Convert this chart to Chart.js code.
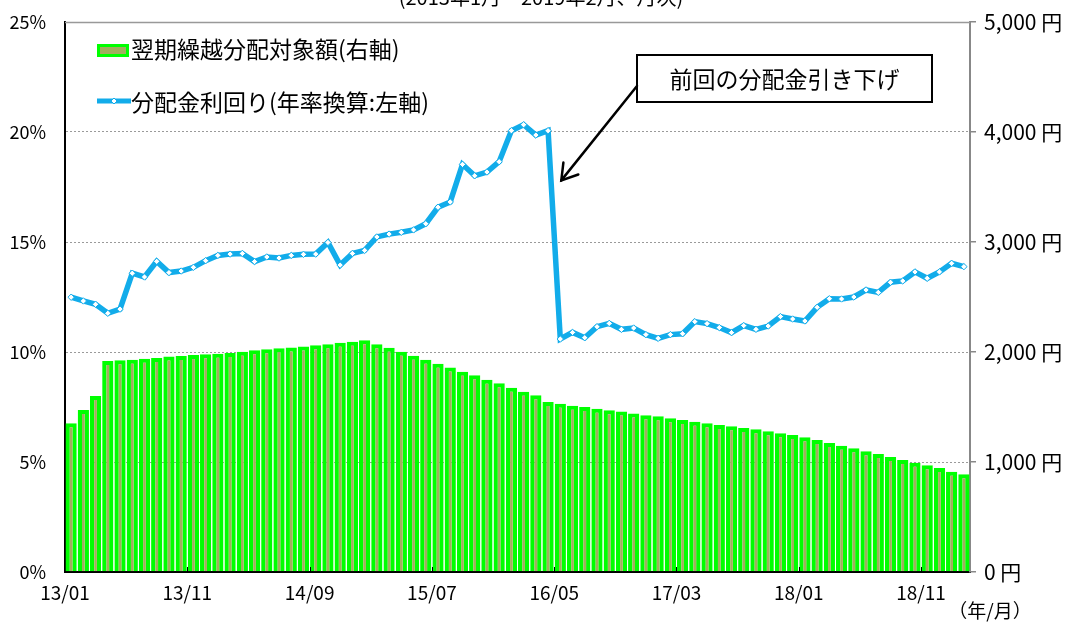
<!DOCTYPE html>
<html><head><meta charset="utf-8">
<script src="https://cdn.jsdelivr.net/npm/chart.js@4.4.1/dist/chart.umd.min.js"></script>
<style>html,body{margin:0;padding:0;background:#fff;}#wrap{width:1073px;height:624px;position:relative;}</style>
</head><body><div id="wrap"><canvas id="c"></canvas></div>
<script>
// ---- data ----
const months = [
 '13/01','13/02','13/03','13/04','13/05','13/06','13/07','13/08','13/09','13/10','13/11','13/12',
 '14/01','14/02','14/03','14/04','14/05','14/06','14/07','14/08','14/09','14/10','14/11','14/12',
 '15/01','15/02','15/03','15/04','15/05','15/06','15/07','15/08','15/09','15/10','15/11','15/12',
 '16/01','16/02','16/03','16/04','16/05','16/06','16/07','16/08','16/09','16/10','16/11','16/12',
 '17/01','17/02','17/03','17/04','17/05','17/06','17/07','17/08','17/09','17/10','17/11','17/12',
 '18/01','18/02','18/03','18/04','18/05','18/06','18/07','18/08','18/09','18/10','18/11','18/12',
 '19/01','19/02'];
const shownMonthLabels = ['13/01','13/11','14/09','15/07','16/05','17/03','18/01','18/11'];
// 翌期繰越分配対象額 (円, right axis)
const carryover = [
 1352,1473,1600,1918,1924,1930,1939,1945,1958,1964,
 1973,1979,1985,1991,2003,2015,2024,2033,2042,2051,
 2061,2070,2085,2094,2106,2070,2039,2003,1967,1930,
 1894,1858,1821,1788,1748,1715,1676,1639,1606,1545,
 1530,1512,1500,1485,1470,1458,1442,1424,1415,1397,
 1382,1367,1352,1336,1324,1309,1297,1279,1261,1245,
 1224,1200,1173,1148,1124,1097,1073,1045,1018,994,
 970,945,912,888];
// 分配金利回り (年率換算, %, left axis)
const yieldPct = [
 12.49,12.32,12.17,11.76,11.95,13.58,13.41,14.12,13.61,13.68,
 13.85,14.15,14.39,14.45,14.48,14.11,14.32,14.27,14.39,14.44,
 14.45,14.98,13.95,14.48,14.62,15.23,15.36,15.44,15.55,15.83,
 16.58,16.82,18.53,18.01,18.18,18.65,20.06,20.33,19.86,20.06,
 10.59,10.89,10.65,11.15,11.30,11.03,11.09,10.79,10.62,10.79,
 10.83,11.38,11.29,11.11,10.88,11.20,11.03,11.18,11.61,11.50,
 11.41,12.03,12.42,12.41,12.50,12.82,12.71,13.17,13.23,13.64,
 13.35,13.64,14.03,13.88];
const leftTicks = [0,5,10,15,20,25];
const rightTicks = [0,1000,2000,3000,4000,5000];
const barLabel = '翌期繰越分配対象額(右軸)';
const lineLabel = '分配金利回り(年率換算:左軸)';
const titleText = '(2013年1月～2019年2月、月次)';
const noteText = '前回の分配金引き下げ';
const noteMonth = '16/05';
const noteTipValue = 17.8;
const unitText = '（年/月）';

// ---- style ----
const FONT = '"Noto Sans CJK JP", "Noto Sans", sans-serif';
const BLUE = '#12ACEA';
const GREEN = '#00FF00';
const OLIVE = '#A2AE5E';

const overlay = {
  id: 'overlay',
  afterDraw(chart) {
    const {ctx, chartArea: a, scales} = chart;
    ctx.save();
    // top frame
    ctx.strokeStyle = '#999'; ctx.lineWidth = 1.5;
    ctx.beginPath(); ctx.moveTo(a.left, a.top + 0.5); ctx.lineTo(a.right, a.top + 0.5); ctx.stroke();
    // inward x ticks
    const xs = scales.x;
    const half = (xs.getPixelForValue(1) - xs.getPixelForValue(0)) / 2;
    ctx.strokeStyle = '#000'; ctx.lineWidth = 1;
    months.forEach((m, i) => {
      if (i % 10 === 0 && i > 0) {
        const x = Math.round(xs.getPixelForValue(i) - half) + 0.5;
        ctx.beginPath(); ctx.moveTo(x, a.bottom); ctx.lineTo(x, a.bottom - 5); ctx.stroke();
      }
    });
    // title (partly clipped at top)
    ctx.fillStyle = '#000';
    ctx.font = '20px ' + FONT; ctx.textAlign = 'center'; ctx.textBaseline = 'middle';
    ctx.fillText(titleText, 541, -3);
    // unit label
    ctx.font = '19px ' + FONT;
    ctx.fillText(unitText, 990, 611);
    // legend
    ctx.textAlign = 'left';
    ctx.font = '23px ' + FONT;
    ctx.fillStyle = OLIVE; ctx.fillRect(97, 44, 32, 13);
    ctx.strokeStyle = GREEN; ctx.lineWidth = 3; ctx.strokeRect(98.5, 45.5, 29, 10);
    ctx.fillStyle = '#000'; ctx.fillText(barLabel, 131, 49);
    ctx.strokeStyle = BLUE; ctx.lineWidth = 5;
    ctx.beginPath(); ctx.moveTo(97, 101); ctx.lineTo(131, 101); ctx.stroke();
    ctx.fillStyle = '#fff'; ctx.lineWidth = 1;
    ctx.beginPath(); ctx.moveTo(114, 98); ctx.lineTo(117, 101); ctx.lineTo(114, 104); ctx.lineTo(111, 101); ctx.closePath();
    ctx.fill(); ctx.stroke();
    ctx.fillStyle = '#000'; ctx.fillText(lineLabel, 131, 102);
    // annotation box
    const bx = 637, by = 55, bw = 295, bh = 47;
    ctx.fillStyle = '#fff'; ctx.fillRect(bx, by, bw, bh);
    ctx.strokeStyle = '#000'; ctx.lineWidth = 2; ctx.strokeRect(bx, by, bw, bh);
    ctx.fillStyle = '#000'; ctx.font = '23px ' + FONT; ctx.textAlign = 'center';
    ctx.fillText(noteText, bx + bw / 2, by + bh / 2 + 1);
    // arrow
    const tx = xs.getPixelForValue(months.indexOf(noteMonth)) + 1;
    const ty = scales.y.getPixelForValue(noteTipValue);
    const sx = bx, sy = by + 31;
    ctx.lineWidth = 2.5; ctx.lineCap = 'round';
    ctx.beginPath(); ctx.moveTo(sx, sy); ctx.lineTo(tx, ty); ctx.stroke();
    const ang = Math.atan2(sy - ty, sx - tx), L = 18, d = 0.56;
    ctx.beginPath();
    ctx.moveTo(tx + L * Math.cos(ang - d), ty + L * Math.sin(ang - d));
    ctx.lineTo(tx, ty);
    ctx.lineTo(tx + L * Math.cos(ang + d), ty + L * Math.sin(ang + d));
    ctx.stroke();
    ctx.restore();
  }
};

const noPad = s => { s.paddingTop = 0; s.paddingBottom = 0; };

new Chart(document.getElementById('c'), {
  data: {
    labels: months,
    datasets: [
      { type: 'line', label: lineLabel, data: yieldPct, yAxisID: 'y',
        borderColor: BLUE, borderWidth: 5.5, tension: 0,
        pointStyle: 'rectRot', pointRadius: 3.2, pointBackgroundColor: '#fff',
        pointBorderColor: BLUE, pointBorderWidth: 1, order: 0 },
      { type: 'bar', label: barLabel, data: carryover, yAxisID: 'y2',
        backgroundColor: OLIVE, borderColor: GREEN,
        borderWidth: {top: 4, left: 4.3, right: 4.3, bottom: 0}, borderSkipped: 'start',
        barPercentage: 0.92, categoryPercentage: 1, order: 1 }
    ]
  },
  options: {
    responsive: true, maintainAspectRatio: false, animation: false,
    devicePixelRatio: 1,
    layout: { padding: { top: 22, left: 0, right: 0, bottom: 0 } },
    plugins: { legend: { display: false }, tooltip: { enabled: false } },
    scales: {
      x: {
        type: 'category', offset: true,
        grid: { display: false },
        border: { display: true, color: '#000', width: 2 },
        ticks: { autoSkip: false, maxRotation: 0, minRotation: 0, labelOffset: -6.1, padding: 1,
          color: '#000', font: { family: FONT, size: 19 },
          callback: (v, i) => shownMonthLabels.includes(months[i]) ? months[i] : '' },
        afterFit: s => { s.height = 52; s.paddingLeft = 0; s.paddingRight = 0; }
      },
      y: {
        position: 'left', min: 0, max: 25,
        afterBuildTicks: s => { s.ticks = leftTicks.map(v => ({ value: v })); },
        ticks: { padding: 19, color: '#000', font: { family: FONT, size: 18 }, callback: v => v + '%' },
        grid: { drawTicks: false, lineWidth: 1,
          color: c => (c.tick && (c.tick.value === 0 || c.tick.value === 25)) ? 'rgba(0,0,0,0)' : '#9a9a9a' },
        border: { display: true, color: '#000', width: 2, dash: [2, 2] },
        afterFit: s => { s.width = 65; noPad(s); }
      },
      y2: {
        position: 'right', min: 0, max: 5000,
        afterBuildTicks: s => { s.ticks = rightTicks.map(v => ({ value: v })); },
        ticks: { padding: 8, color: '#000', font: { family: FONT, size: 21 },
          callback: v => v.toLocaleString('en-US') + ' 円' },
        grid: { drawOnChartArea: false, drawTicks: true, tickLength: 6, color: '#888', lineWidth: 1.5 },
        border: { display: true, color: '#888', width: 2 },
        afterFit: s => { s.width = 103; noPad(s); }
      }
    }
  },
  plugins: [overlay]
});
</script>
</body></html>
